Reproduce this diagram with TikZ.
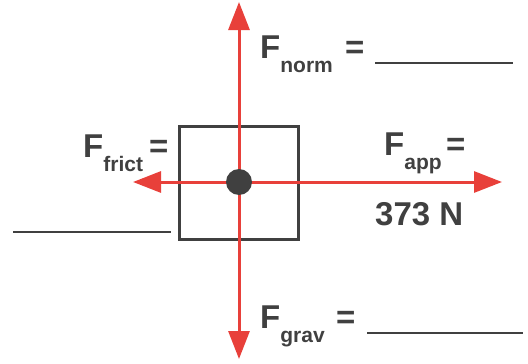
\documentclass[tikz,border=0pt]{standalone}
\usepackage{fontspec}
\setmainfont{Liberation Sans}
\usetikzlibrary{arrows.meta}
\usepackage{xcolor}
\definecolor{ink}{HTML}{404040}
\definecolor{force}{HTML}{E8403A}
\newcommand\fsub[1]{\raisebox{-14pt}{\fontsize{21}{21}\selectfont\bfseries #1}}

\begin{document}
\begin{tikzpicture}[x=1pt,y=-1pt,>={Triangle[length=28pt,width=21pt]},
	lbl/.style={inner sep=0pt,anchor=base west,text=ink,font=\fontsize{33}{33}\selectfont\bfseries},
	blank/.style={ink,line width=2pt},
	vec/.style={->,force,line width=3pt}]
	\useasboundingbox (0,0) rectangle (528,364);
	\node[draw=ink,line width=3pt,minimum width=119pt,minimum height=113pt] (box) at (239,183) {};
	\coordinate (c) at (239,182);
	% arrow tips
	\foreach \n/\p in {up/{239,2}, down/{239,359}, left/{133,182}, right/{502,182}}
		{
		\coordinate (\n) at (\p);
		\draw[vec] (c)--(\n);
	};
	\node[circle,fill=ink,inner sep=0pt,minimum size=26pt] (dot) at (c) {};
	% labels
	\node[lbl] (norm) at (260,58) {F\fsub{norm}};
	\node[lbl] (normeq) at (345,58) {=};
	\node[lbl] (grav) at (260,328) {F\fsub{grav}};
	\node[lbl] (graveq) at (336,328) {=};
	\node[lbl] (frict) at (83,157) {F\fsub{frict}};
	\node[lbl] (fricteq) at (149,157) {=};
	\node[lbl] (app) at (384,155) {F\fsub{app}};
	\node[lbl] (appeq) at (446,155) {=};
	\node[lbl] (val) at (375,225) {373 N};
	% blanks
	\draw[blank] (375,63)--(513,63);
	\draw[blank] (367,333)--(523,333);
	\draw[blank] (13,232)--(171,232);
\end{tikzpicture}
\end{document}
